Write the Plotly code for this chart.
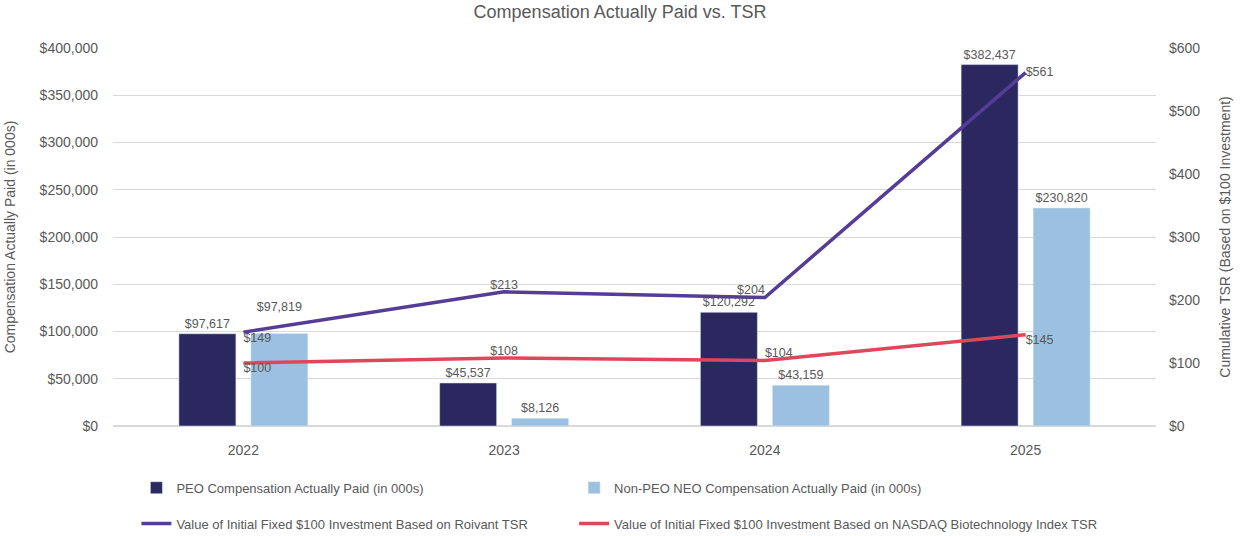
import plotly.graph_objects as go

years = ['2022', '2023', '2024', '2025']
peo_cap = [97617, 45537, 120292, 382437]
neo_cap = [97819, 8126, 43159, 230820]
roivant_tsr = [149, 213, 204, 561]
nasdaq_tsr = [100, 108, 104, 145]

roivant_pos = ['bottom right', 'top center', 'top left', 'middle right']
nasdaq_pos = ['bottom right', 'top center', 'top right', 'bottom right']
# the 2022 non-PEO label sits higher, clear of the TSR line
neo_tmpl = ['$%{y:,}<br>\u00a0', '$%{y:,}', '$%{y:,}', '$%{y:,}']

gray = '#595959'
fnt = 'Liberation Sans, Arial, sans-serif'

fig = go.Figure()

fig.add_trace(go.Bar(
    x=years, y=peo_cap, name='PEO Compensation Actually Paid (in 000s)',
    marker_color='#2B2860', texttemplate='$%{y:,}', textposition='outside',
    textfont=dict(size=12.5, color=gray), cliponaxis=False, legend='legend'))
fig.add_trace(go.Bar(
    x=years, y=neo_cap, name='Non-PEO NEO Compensation Actually Paid (in 000s)',
    marker_color='#9BC0E0', texttemplate=neo_tmpl, textposition='outside',
    textfont=dict(size=12.5, color=gray), cliponaxis=False, legend='legend2'))

fig.add_trace(go.Scatter(
    x=years, y=roivant_tsr, yaxis='y2', mode='lines',
    name='Value of Initial Fixed $100 Investment Based on Roivant TSR',
    line=dict(color='#553C96', width=3.5), legend='legend3'))
fig.add_trace(go.Scatter(
    x=years, y=nasdaq_tsr, yaxis='y2', mode='lines',
    name='Value of Initial Fixed $100 Investment Based on NASDAQ Biotechnology Index TSR',
    line=dict(color='#E0465A', width=3.5), legend='legend4'))

# data labels for the lines
fig.add_trace(go.Scatter(
    x=years, y=roivant_tsr, yaxis='y2', mode='text',
    text=['$%d' % v for v in roivant_tsr], textposition=roivant_pos,
    textfont=dict(size=12.5, color=gray), showlegend=False, cliponaxis=False))
fig.add_trace(go.Scatter(
    x=years, y=nasdaq_tsr, yaxis='y2', mode='text',
    text=['$%d' % v for v in nasdaq_tsr], textposition=nasdaq_pos,
    textfont=dict(size=12.5, color=gray), showlegend=False, cliponaxis=False))

leg = dict(orientation='h', xref='container', yref='container', xanchor='left',
           yanchor='middle', font=dict(size=13, color=gray), bgcolor='rgba(0,0,0,0)')

fig.update_layout(
    width=1240, height=536,
    margin=dict(l=113, r=84, t=48, b=110, autoexpand=False),
    paper_bgcolor='white', plot_bgcolor='white',
    font=dict(family=fnt, size=14, color=gray),
    title=dict(text='Compensation Actually Paid vs. TSR', x=0.5, xanchor='center',
               yref='container', y=0.978, yanchor='middle', font=dict(size=18, color=gray)),
    barmode='group', bargap=0.448, bargroupgap=0.208,
    xaxis=dict(showgrid=False, showline=False, ticks='', tickfont=dict(size=14),
               ticklabelstandoff=14, automargin=False),
    yaxis=dict(range=[0, 400000], dtick=50000, tickprefix='$', tickformat=',',
               showgrid=True, gridcolor='#D9D9D9', zeroline=True, zerolinecolor='#D9D9D9',
               ticks='', ticklabelstandoff=14, automargin=False,
               title=dict(text='Compensation Actually Paid (in 000s)',
                          font=dict(size=14), standoff=20)),
    yaxis2=dict(range=[0, 600], dtick=100, tickprefix='$', overlaying='y', side='right',
                showgrid=False, zeroline=False, ticks='', ticklabelstandoff=12,
                automargin=False,
                title=dict(text='Cumulative TSR (Based on $100 Investment)',
                           font=dict(size=14), standoff=20)),
    legend=dict(leg, x=0.110, y=0.09),
    legend2=dict(leg, x=0.463, y=0.09),
    legend3=dict(leg, x=0.110, y=0.023),
    legend4=dict(leg, x=0.463, y=0.023),
)

fig.write_html('out.html', config={'displayModeBar': False},
               post_script="document.body.style.margin='0';")
